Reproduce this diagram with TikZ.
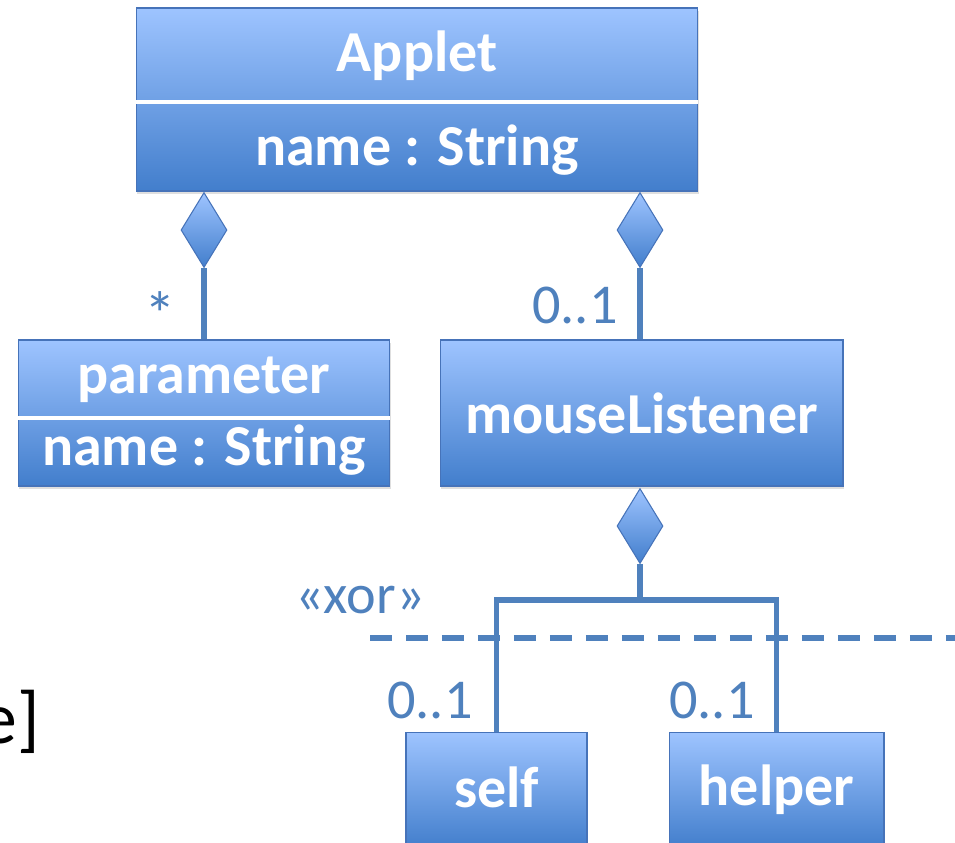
\documentclass[tikz,border=0pt]{standalone}
\usepackage{fontspec}
\setmainfont{Carlito}
\usetikzlibrary{shapes.geometric,shadows}
\definecolor{umlline}{RGB}{79,129,189}
\definecolor{umledge}{RGB}{70,115,185}
\definecolor{umltop}{RGB}{158,196,255}
\definecolor{umlbot}{RGB}{66,126,204}
\begin{document}
\begin{tikzpicture}[x=0.02cm,y=-0.02cm,
  cls/.style={draw=umledge,line width=0.6pt,top color=umltop,bottom color=umlbot,drop shadow={opacity=0.25,shadow xshift=0.6pt,shadow yshift=-1.6pt},inner sep=0pt},
  lbl/.style={text=white,font=\fontsize{33}{37}\selectfont\bfseries,inner sep=0pt},
  dia/.style={diamond,draw=umledge,line width=0.6pt,top color=umltop,bottom color=umlbot,minimum width=0.92cm,minimum height=1.5cm,inner sep=0pt,anchor=north},
  mult/.style={text=umlline,font=\fontsize{32}{36}\selectfont,inner sep=0pt},
  link/.style={draw=umlline,line width=2.9pt},
  sep/.style={draw=white,line width=2.2pt}]
\useasboundingbox (0,0) rectangle (955,842);
\clip (0,0) rectangle (955,842);
\node[cls,minimum width=11.24cm,minimum height=3.66cm] (applet) at (417,99.5) {};
\node[cls,minimum width=7.44cm,minimum height=2.92cm] (param) at (204,413) {};
\node[cls,minimum width=8.06cm,minimum height=2.92cm] (mouse) at (641.5,413) {};
\node[cls,minimum width=3.62cm,minimum height=2.32cm] (self) at (496.5,790) {};
\node[cls,minimum width=4.3cm,minimum height=2.32cm] (helper) at (776.5,790) {};
\draw[sep] (applet.west |- 0,102) -- (applet.east |- 0,102);
\draw[sep] (param.west |- 0,418) -- (param.east |- 0,418);
\node[lbl] (appletname) at (417,56) {Applet};
\node[lbl] (appletattr) at (417,150) {name : String};
\node[lbl] (paramname) at (204,380) {parameter};
\node[lbl] (paramattr) at (204,450) {name : String};
\node[lbl] (mousename) at (641.5,413) {mouseListener};
\node[lbl] (selfname) at (496.5,787) {self};
\node[lbl] (helpername) at (776.5,790) {helper};
\node[dia] (dparam) at (204,192) {};
\node[dia] (dmouse) at (640,192) {};
\node[dia] (dlisten) at (640,488) {};
\coordinate (fork) at (640,600);
\draw[link] (dparam.south) -- (param.north -| dparam.south);
\draw[link] (dmouse.south) -- (mouse.north -| dmouse.south);
\draw[link] (dlisten.south) -- (fork);
\draw[link] (self.north) |- (fork) -| (helper.north);
\coordinate (xorstart) at (370,638);
\coordinate (xorend) at (955,638);
\draw[link,dash pattern=on 0.44cm off 0.28cm] (xorstart) -- (xorend);
\node[mult,font=\fontsize{36}{40}\selectfont] (mparam) at (160,314) {*};
\node[mult] (mmouse) at (575,305) {0..1};
\node[mult] (xor) at (360,600) {«xor»};
\node[mult] (mself) at (430,700) {0..1};
\node[mult] (mhelper) at (712,700) {0..1};
\node[font=\fontsize{42}{48}\selectfont,inner sep=0pt,anchor=east] (cut) at (40,722) {e]};
\end{tikzpicture}
\end{document}
